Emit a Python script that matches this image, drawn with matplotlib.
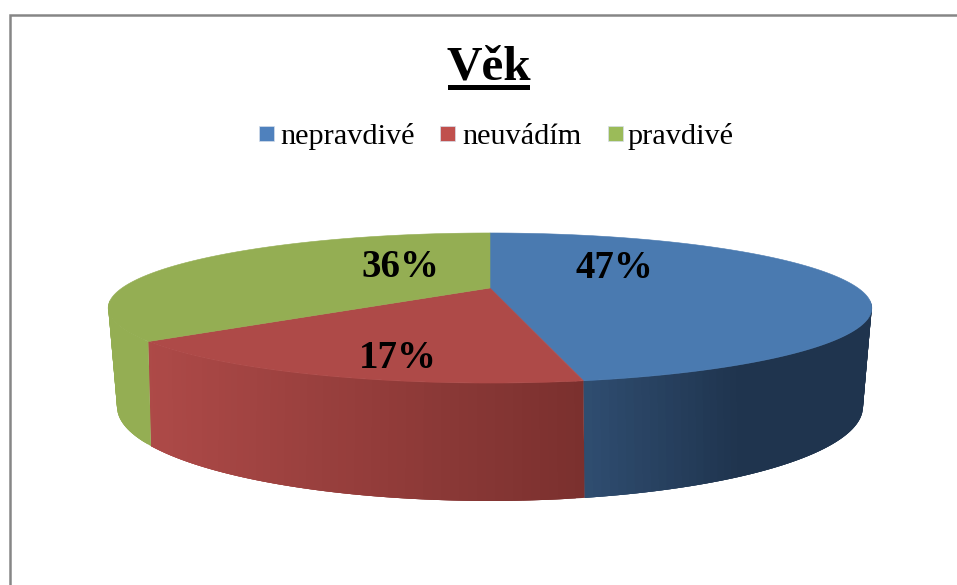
import numpy as np
import matplotlib
matplotlib.use('Agg')
import matplotlib.pyplot as plt
from matplotlib.patches import Polygon, Rectangle

plt.rcParams['font.family'] = ['Liberation Serif', 'DejaVu Serif']

title = 'Věk'
categories = ['nepravdivé', 'neuvádím', 'pravdivé']
values = [47, 17, 36]
labels = ['47%', '17%', '36%']

top_colors = ['#4A7AB0', '#AE4A48', '#94AE53']
legend_colors = ['#4F81BD', '#C0504D', '#9BBB59']


# perspective of the pie: fitted to the picture, t is clockwise from the back
def top_face(t):
    u, v = np.sin(t), np.cos(t)
    d = 1 + 0.2667 * v
    return 490 + 368 * u / d, 288 - 69.7 * v / d


def bottom_face(t):
    u, v = np.sin(t), np.cos(t)
    d = 1 + 0.3 * v
    return 490 + 355.8 * u / d, 378.8 - 85.5 * v / d


def side_color(i, x):
    # the rim gets darker to the right, blue stops changing around x=740
    if i == 0:
        f = np.clip((x - 585) / 155, 0, 1)
        a, b = np.array([47, 77, 112]), np.array([31, 52, 78])
    elif i == 1:
        f = np.clip((x - 145) / 440, 0, 1)
        a, b = np.array([174, 74, 72]), np.array([122, 48, 46])
    else:
        f = 0
        a, b = np.array([148, 174, 83]), np.array([148, 174, 83])
    return (a + (b - a) * f) / 255


fig = plt.figure(figsize=(9.57, 5.85), dpi=100)
ax = fig.add_axes([0, 0, 1, 1])
ax.set_xlim(0, 957)
ax.set_ylim(585, 0)
ax.axis('off')

# chart frame, only left and top are inside the crop
ax.plot([9.5, 9.5, 957], [585, 14.5, 14.5], color='#868686', lw=1.8, solid_joinstyle='miter')

edges = np.radians(np.cumsum([0] + values) / sum(values) * 360)

# rim first, the top face goes over it
rim_start, rim_end = np.radians(100), np.radians(260)
for i in range(len(values)):
    a0, a1 = max(edges[i], rim_start), min(edges[i + 1], rim_end)
    if a1 <= a0:
        continue
    steps = np.linspace(a0, a1, max(int(np.degrees(a1 - a0)), 2))
    for k in range(len(steps) - 1):
        # each strip runs on under the next one so no seams show
        t0, t1 = steps[k], steps[min(k + 3, len(steps) - 1)]
        x0, y0 = top_face(t0)
        x1, y1 = top_face(t1)
        x2, y2 = bottom_face(t1)
        x3, y3 = bottom_face(t0)
        col = side_color(i, (x0 + top_face(steps[k + 1])[0]) / 2)
        ax.add_patch(Polygon([(x0, y0), (x1, y1), (x2, y2), (x3, y3)],
                             facecolor=col, edgecolor='none', lw=0))

for i in range(len(values)):
    t = np.linspace(edges[i], edges[i + 1], 200)
    x, y = top_face(t)
    pts = [(490, 288)] + list(zip(x, y))
    ax.add_patch(Polygon(pts, facecolor=top_colors[i], edgecolor=top_colors[i], lw=0.4))

# data labels
ax.text(614, 278, labels[0], fontsize=28, fontweight='bold', ha='center', va='baseline')
ax.text(398, 368, labels[1], fontsize=28, fontweight='bold', ha='center', va='baseline')
ax.text(400, 277, labels[2], fontsize=28, fontweight='bold', ha='center', va='baseline')

# title with underline
ax.text(489, 80, title, fontsize=35.5, fontweight='bold', ha='center', va='baseline')
ax.add_patch(Rectangle((448, 85), 82, 5, facecolor='black', edgecolor='none'))

# legend
square_x = [259, 440, 608]
text_x = [280, 462, 628]
for i in range(len(categories)):
    ax.add_patch(Rectangle((square_x[i], 126), 15, 15, facecolor=legend_colors[i], edgecolor='#D5DEEA', lw=0.5))
    ax.text(text_x[i], 144, categories[i], fontsize=21.8, ha='left', va='baseline')

fig.savefig('out.png', dpi=100)
